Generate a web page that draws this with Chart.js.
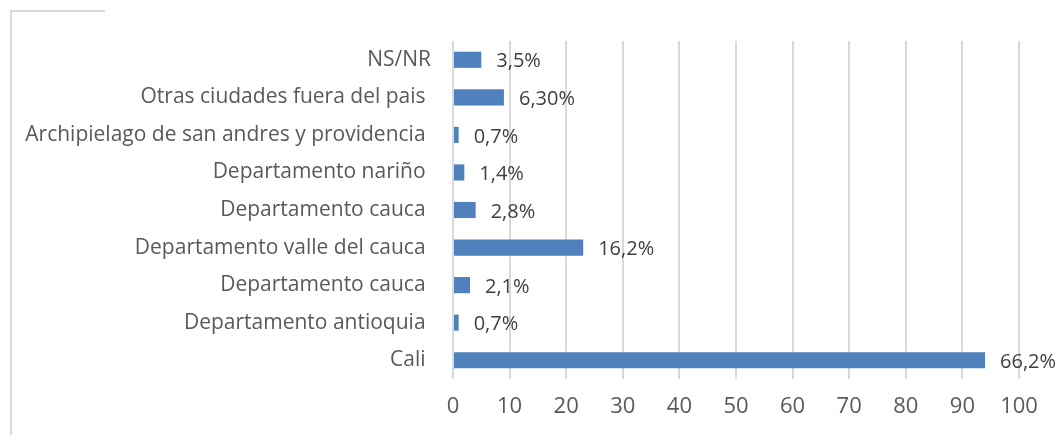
<!DOCTYPE html>
<html>
<head>
<meta charset="utf-8">
<script src="https://cdn.jsdelivr.net/npm/chart.js@4/dist/chart.umd.min.js"></script>
<style>
html,body{margin:0;padding:0;background:#fff;}
#wrap{position:relative;width:1057px;height:435px;}
#frame{position:absolute;left:10px;top:10px;width:95px;height:430px;border-left:2px solid #d9d9d9;border-top:2px solid #d9d9d9;box-sizing:border-box;}
canvas{position:absolute;left:0;top:0;}
</style>
</head>
<body>
<div id="wrap">
<div id="frame"></div>
<canvas id="c" width="1057" height="435"></canvas>
</div>
<script>
const categories = [
  "NS/NR",
  "Otras ciudades fuera del pais ",
  "Archipielago de san andres y providencia ",
  "Departamento nariño ",
  "Departamento cauca ",
  "Departamento valle del cauca ",
  "Departamento cauca ",
  "Departamento antioquia ",
  "Cali "
];
const values = [5, 9, 1, 2, 4, 23, 3, 1, 94];
const pctLabels = ["3,5%", "6,30%", "0,7%", "1,4%", "2,8%", "16,2%", "2,1%", "0,7%", "66,2%"];
const xTicks = [0, 10, 20, 30, 40, 50, 60, 70, 80, 90, 100];

const FONT = "'Open Sans', Lato, sans-serif";

const dataLabelPlugin = {
  id: 'dataLabels',
  afterDatasetsDraw(chart) {
    const ctx = chart.ctx;
    const meta = chart.getDatasetMeta(0);
    ctx.save();
    ctx.font = "20px " + FONT;
    ctx.fillStyle = "#404040";
    ctx.textAlign = "left";
    ctx.textBaseline = "middle";
    meta.data.forEach((bar, i) => {
      ctx.fillText(pctLabels[i], bar.x + 15, bar.y + 2);
    });
    ctx.restore();
  }
};

new Chart(document.getElementById('c'), {
  type: 'bar',
  data: {
    labels: categories,
    datasets: [{
      data: values,
      backgroundColor: '#4f81bd',
      borderColor: '#4f81bd',
      borderWidth: 0,
      barPercentage: 0.43,
      categoryPercentage: 1.0
    }]
  },
  options: {
    indexAxis: 'y',
    responsive: false,
    animation: false,
    devicePixelRatio: 1,
    layout: { padding: { top: 41, right: 38, bottom: 0, left: 0 } },
    plugins: { legend: { display: false }, tooltip: { enabled: false } },
    scales: {
      x: {
        min: 0, max: 100,
        afterBuildTicks(scale) { scale.ticks = xTicks.map(v => ({ value: v })); },
        grid: { color: '#d9d9d9', lineWidth: 2, drawTicks: false },
        border: { display: false },
        ticks: { color: '#595959', font: { family: FONT, size: 22 }, padding: 15 },
        afterFit(scale) { scale.height = 56; }
      },
      y: {
        grid: { display: false, drawTicks: false },
        border: { display: false },
        ticks: { color: '#595959', font: { family: FONT, size: 21 }, padding: 22 },
        afterFit(scale) { scale.width = 453; }
      }
    }
  },
  plugins: [dataLabelPlugin]
});
</script>
</body>
</html>
